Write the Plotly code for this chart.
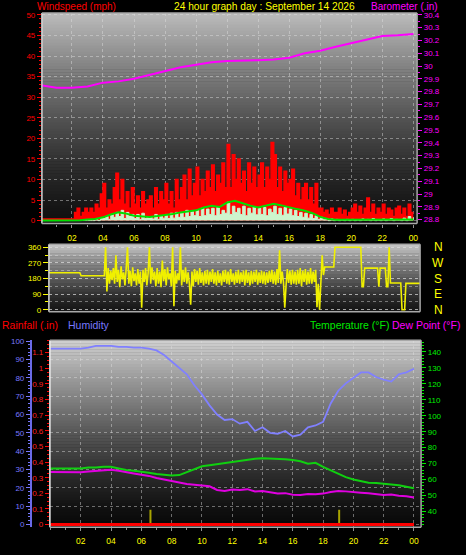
import plotly.graph_objects as go

W, H = 466, 555

# ---------------- data ----------------
STEP_WIND = 10     # minutes between wind gust / speed samples
STEP_DIR = 5       # minutes between wind direction samples
STEP_AVG = 30      # minutes between average-wind samples
STEP_BARO = 60     # minutes between barometer samples
STEP_THERMO = 30   # minutes between humidity / temperature / dew point samples
STEP_RAIN = 60

gust_mph = [
    0.4, 0.4, 0.4, 0.4, 0.4, 0.4,
    0.4, 0.4, 0.4, 0.4, 0.4, 0.4,
    0.4, 2, 3, 1, 2, 3,
    2, 3, 2, 4, 3, 6.5,
    9, 3, 5, 4, 8, 11.5,
    5, 10, 4, 7, 3, 8,
    4, 6, 3, 7, 4, 5,
    6, 3, 8, 4, 7, 5,
    9, 4, 7, 3, 10, 5,
    8, 11, 5, 12.5, 6, 9,
    13, 6, 10, 7, 12, 8,
    13.5, 7, 11, 9, 14, 8,
    18.5, 8, 16, 10, 15, 9,
    12, 7, 14, 9, 13, 8,
    11, 14, 8, 13, 10, 19,
    16, 8, 13, 7, 12, 9,
    10, 12.5, 6, 9, 5, 8,
    9, 5, 8, 4, 9, 3,
    3, 2, 2.5, 1.5, 3, 2,
    2, 3, 1.5, 2.5, 1, 2,
    3, 4, 2, 3.5, 1.5, 3,
    5.5, 2, 4, 1.5, 3, 2,
    4, 1.5, 3, 2.5, 1, 3,
    3.5, 1.5, 3, 1, 4, 2,
    2,
]

speed_mph = [
    0, 0, 0, 0, 0, 0,
    0, 0, 0, 0, 0, 0,
    0, 0, 0, 0, 0, 0,
    0, 0, 0, 0.3, 0, 0.5,
    0.5, 1, 0.3, 1.5, 0.8, 2,
    1, 2.5, 0.5, 2, 1, 1.5,
    0.5, 1.5, 0.3, 1.8, 0.5, 1,
    1, 0.4, 1.5, 0.3, 1.2, 0.6,
    1.5, 0.5, 1.8, 0.6, 2, 0.8,
    2, 0.8, 2.5, 1, 2.2, 1.2,
    2.5, 1, 3, 1.2, 2.8, 1.5,
    3, 1.2, 3.2, 1.5, 2.5, 1.8,
    4.5, 1.5, 3.5, 2, 3, 1.5,
    3.5, 1.2, 3, 1.8, 3.3, 1.4,
    3, 1.5, 3.2, 1.2, 2.8, 2,
    3.5, 1.5, 3, 1.3, 3.2, 1.6,
    2.8, 1.2, 2.5, 1, 2, 0.8,
    1.8, 0.6, 1.5, 0.5, 1.2, 0.3,
    0.8, 0.2, 0.5, 0, 0.4, 0,
    0.3, 0, 0.2, 0, 0.3, 0,
    0.3, 0, 0.2, 0, 0.4, 0.1,
    0.3, 0, 0.5, 0, 0.2, 0,
    0.4, 0, 0.2, 0.5, 0, 0.3,
    0.2, 0, 0.6, 0, 1.0, 0.2,
    0.8,
]

avg_mph = [
    0, 0, 0, 0, 0, 0.1, 0.3, 0.4, 0.8, 1.5,
    2.0, 1.7, 1.2, 1.0, 0.9, 1.1, 1.3, 1.6, 2.0, 2.3,
    2.5, 3.2, 3.6, 3.3, 4.4, 4.8, 4.2, 3.6, 3.2, 3.6,
    4.1, 3.7, 3.2, 2.8, 2.4, 1.8, 0.9, 0.4, 0.2, 0.2,
    0.3, 0.2, 0.3, 0.2, 0.2, 0.3, 0.2, 0.3, 0.3,
]

baro_in = [
    29.85, 29.83, 29.83, 29.84, 29.87, 29.88, 29.90, 29.93, 29.96, 29.99,
    30.01, 30.03, 30.04, 30.04, 30.045, 30.05, 30.065, 30.10, 30.12, 30.15,
    30.18, 30.21, 30.235, 30.24, 30.25,
]

wind_dir = [
    213, 213, 213, 213, 213, 213, 213, 213, 213, 213, 213, 213,
    213, 213, 213, 213, 213, 213, 213, 213, 213, 213, 213, 213,
    213, 196, 196, 196, 196, 196, 196, 196, 196, 196, 196, 196,
    196, 196, 196, 196, 196, 196, 196, 196, 360, 105, 240, 150,
    225, 170, 240, 150, 314, 160, 230, 130, 250, 175, 215, 140,
    240, 360, 150, 225, 135, 245, 165, 210, 140, 235, 150, 220,
    11, 230, 160, 240, 140, 210, 360, 150, 245, 170, 220, 135,
    240, 150, 220, 130, 283, 165, 235, 140, 245, 175, 210, 135,
    360, 20, 225, 150, 210, 170, 360, 140, 230, 160, 245, 150,
    215, 150, 29, 220, 135, 235, 160, 225, 145, 240, 155, 215,
    140, 225, 150, 230, 145, 220, 160, 235, 150, 215, 140, 225,
    155, 210, 140, 225, 160, 230, 150, 220, 145, 235, 160, 210,
    145, 220, 155, 230, 150, 215, 160, 225, 140, 230, 155, 215,
    140, 225, 150, 220, 160, 230, 145, 215, 155, 225, 150, 220,
    145, 215, 155, 225, 160, 230, 150, 220, 145, 235, 155, 343,
    150, 220, 160, 11, 140, 235, 155, 225, 145, 230, 150, 220,
    145, 230, 150, 240, 135, 225, 160, 235, 145, 220, 150, 240,
    150, 220, 160, 230, 15, 150, 0, 220, 314, 200, 246, 246,
    246, 246, 246, 246, 246, 246, 360, 360, 360, 360, 360, 360,
    360, 360, 360, 360, 360, 360, 360, 360, 360, 360, 360, 360,
    360, 360, 360, 133, 133, 240, 240, 240, 240, 240, 240, 240,
    240, 240, 240, 240, 133, 240, 240, 240, 240, 240, 133, 133,
    360, 154, 154, 154, 154, 154, 154, 154, 154, 154, 0, 0,
    0, 152, 152, 152, 152, 152, 152, 152, 152, 152, 152, 152,
    152,
]

humidity = [
    96, 96, 96, 96, 96, 96.5, 97.5, 97.5, 97.5, 97,
    97, 96.5, 96.5, 96, 95, 92.5, 89, 85, 82, 76,
    71, 65, 60, 57, 57.5, 55, 56, 51, 53, 50,
    49.5, 51, 48, 49, 53, 54, 56, 66, 73, 77,
    80, 83, 83, 80.5, 79, 78, 82, 83, 85,
]

temp_f = [
    67, 67, 67, 67, 67, 67.5, 67.5, 68, 68, 67,
    66, 65.5, 65, 64.3, 63.5, 62.8, 62.5, 62.8, 64.5, 66.5,
    68.3, 69, 69.7, 70.3, 71, 71.5, 72.5, 73, 73.3, 73.2,
    73.1, 72.8, 72.2, 71.5, 70, 70.5, 68, 65.8, 63.5, 61.5,
    60, 58.8, 58, 57.8, 57.3, 57.2, 56.5, 55.5, 54.5,
]

dew_f = [
    64.8, 64.8, 64.8, 64.5, 64.6, 65, 65.5, 66, 66.1, 65.5,
    64.5, 63.8, 63, 62.3, 61, 60, 59, 58, 57.2, 56.8,
    56.2, 55.8, 53.5, 52.8, 53.8, 53.5, 54, 52.5, 52.8, 52.2,
    51.3, 51.5, 50.5, 50.3, 51, 50.8, 51.2, 52.2, 52.8, 52.6,
    52, 51.8, 51.5, 50.8, 50.4, 50.6, 49.8, 49.5, 48.7,
]

rain_in = [0.0, 0.0, 0.0, 0.0, 0.0, 0.0, 0.0, 0.0, 0.0, 0.0, 0.0, 0.0, 0.0,
           0.0, 0.0, 0.0, 0.0, 0.0, 0.0, 0.0, 0.0, 0.0, 0.0, 0.0, 0.0]

event_hours = [6.6, 19.06]
event_level = [8, 8]

hour_ticks = [2, 4, 6, 8, 10, 12, 14, 16, 18, 20, 22, 24]
hour_labels = ["02", "04", "06", "08", "10", "12", "14", "16", "18", "20", "22", "00"]
wind_ticks = [0, 5, 10, 15, 20, 25, 30, 35, 40, 45, 50]
baro_ticks = [28.8, 28.9, 29.0, 29.1, 29.2, 29.3, 29.4, 29.5, 29.6, 29.7, 29.8, 29.9,
              30.0, 30.1, 30.2, 30.3, 30.4]
baro_labels = ["28.8", "28.9", "29", "29.1", "29.2", "29.3", "29.4", "29.5", "29.6",
               "29.7", "29.8", "29.9", "30", "30.1", "30.2", "30.3", "30.4"]
dir_ticks = [0, 90, 180, 270, 360]
compass = ["N", "E", "S", "W", "N"]
hum_ticks = [0, 10, 20, 30, 40, 50, 60, 70, 80, 90, 100]
rain_ticks = [0, 0.1, 0.2, 0.3, 0.4, 0.5, 0.6, 0.7, 0.8, 0.9, 1.0, 1.1]
rain_labels = ["0", "0.1", "0.2", "0.3", "0.4", "0.5", "0.6", "0.7", "0.8", "0.9", "1", "1.1"]
temp_ticks = [40, 50, 60, 70, 80, 90, 100, 110, 120, 130, 140]


def hours(n, step_min):
    return [i * step_min / 60 for i in range(n)]


t_wind = hours(len(gust_mph), STEP_WIND)
t_dir = hours(len(wind_dir), STEP_DIR)
t_avg = hours(len(avg_mph), STEP_AVG)
t_baro = hours(len(baro_in), STEP_BARO)
t_thermo = hours(len(humidity), STEP_THERMO)
t_rain = hours(len(rain_in), STEP_RAIN)

ev_x, ev_y = [], []
for h, lv in zip(event_hours, event_level):
    ev_x += [h, h, None]
    ev_y += [0, lv, None]

# ---------------- colours / fonts ----------------
RED = "#ff0000"
MAG = "#ff00ff"
YEL = "#ffff00"
GRN = "#00ee00"
BLU = "#7878ff"
FONT = "Liberation Sans"
GRID = "rgba(225,225,225,0.45)"


def px(v):
    return v / W


def py(v):
    return 1 - v / H


fig = go.Figure()

# top panel: wind + barometer
fig.add_trace(go.Scatter(x=t_wind, y=gust_mph, mode="lines", xaxis="x", yaxis="y",
                         line=dict(color=RED, width=1.5, shape="hv"),
                         fill="tozeroy", fillcolor=RED))
fig.add_trace(go.Scatter(x=t_wind, y=speed_mph, mode="lines", xaxis="x", yaxis="y",
                         line=dict(color="#cdf5cd", width=1, shape="hv"),
                         fill="tozeroy", fillcolor="#cdf5cd"))
fig.add_trace(go.Scatter(x=t_avg, y=avg_mph, mode="lines", xaxis="x", yaxis="y",
                         line=dict(color="#00e000", width=2)))
fig.add_trace(go.Scatter(x=t_baro, y=baro_in, mode="lines", xaxis="x", yaxis="y2",
                         line=dict(color=MAG, width=2)))

# middle panel: wind direction
fig.add_trace(go.Scatter(x=t_dir, y=wind_dir, mode="lines", xaxis="x2", yaxis="y3",
                         line=dict(color="#f0f000", width=1.6)))

# bottom panel
fig.add_trace(go.Scatter(x=ev_x, y=ev_y, mode="lines", xaxis="x3", yaxis="y4",
                         line=dict(color="#a8a400", width=2)))
fig.add_trace(go.Scatter(x=t_thermo, y=humidity, mode="lines", xaxis="x3", yaxis="y4",
                         line=dict(color="#8080ff", width=1.8)))
fig.add_trace(go.Scatter(x=t_thermo, y=temp_f, mode="lines", xaxis="x3", yaxis="y6",
                         line=dict(color="#10d010", width=2)))
fig.add_trace(go.Scatter(x=t_thermo, y=dew_f, mode="lines", xaxis="x3", yaxis="y6",
                         line=dict(color="#e000e0", width=2)))
fig.add_trace(go.Scatter(x=t_rain, y=rain_in, mode="lines", xaxis="x3", yaxis="y5",
                         line=dict(color=RED, width=3)))


def tickfont(c, s=8):
    return dict(color=c, size=s, family=FONT)


xcommon = dict(tickvals=hour_ticks, ticktext=hour_labels, tickfont=tickfont(YEL, 8.5),
               ticks="outside", ticklen=3, tickcolor="#909090",
               minor=dict(dtick=1, tick0=0, ticks="outside", ticklen=2, tickcolor="#909090"),
               showgrid=True, gridcolor=GRID, griddash="dot", gridwidth=1,
               zeroline=False, showline=False, ticklabelstandoff=3)

layout = dict(
    width=W, height=H, autosize=False,
    margin=dict(l=0, r=0, t=0, b=0, pad=0),
    paper_bgcolor="#000000", plot_bgcolor="rgba(0,0,0,0)",
    showlegend=False,
    xaxis=dict(domain=[px(42), px(418)], range=[0.064, 24.24], anchor="y", **xcommon),
    yaxis=dict(domain=[py(223), py(10)], range=[-0.72, 50.48], anchor="x",
               tickvals=wind_ticks, tickfont=tickfont(RED), ticks="outside", ticklen=4,
               tickcolor=RED, minor=dict(tick0=0, dtick=1, ticks="outside", ticklen=2, tickcolor=RED),
               showgrid=True, gridcolor=GRID, griddash="dot", zeroline=False, showline=False),
    yaxis2=dict(overlaying="y", side="right", anchor="x", range=[28.769, 30.415],
                tickvals=baro_ticks, ticktext=baro_labels, tickfont=tickfont(MAG),
                ticks="outside", ticklen=4, tickcolor=MAG,
                minor=dict(tick0=28.8, dtick=0.05, ticks="outside", ticklen=2, tickcolor=MAG),
                showgrid=False, zeroline=False, showline=False),
    xaxis2=dict(domain=[px(49), px(421)], range=[0, 24], anchor="y3", showticklabels=False,
                ticks="", showgrid=False, zeroline=False, showline=False),
    yaxis3=dict(domain=[py(312), py(244)], range=[-11, 377], anchor="x2",
                tickvals=dir_ticks, tickfont=tickfont(YEL), ticks="outside", ticklen=5,
                tickcolor=YEL, minor=dict(tick0=0, dtick=45, ticks="outside", ticklen=3,
                                          tickcolor=YEL, showgrid=True, gridcolor=GRID,
                                          griddash="dot"),
                showgrid=True, gridcolor=GRID, griddash="dot", zeroline=False, showline=False),
    xaxis3=dict(domain=[px(50), px(422)], range=[-0.04, 24.47], anchor="y4", **xcommon),
    yaxis4=dict(domain=[py(530), py(341)], range=[-1.62, 100.54], anchor="free",
                position=px(31), side="left", tickvals=hum_ticks, tickfont=tickfont(BLU),
                ticks="outside", ticklen=4, tickcolor=BLU,
                minor=dict(tick0=0, dtick=2, ticks="outside", ticklen=2, tickcolor=BLU),
                showline=True, linecolor="#6a6ae8", linewidth=2,
                showgrid=True, gridcolor=GRID, griddash="dot", zeroline=False),
    yaxis5=dict(overlaying="y4", side="left", anchor="x3", range=[-0.017, 1.179],
                tickvals=rain_ticks, ticktext=rain_labels, tickfont=tickfont("#ff2020"),
                ticks="outside", ticklen=4, tickcolor=RED,
                minor=dict(tick0=0, dtick=0.025, ticks="outside", ticklen=2, tickcolor=RED),
                showgrid=False, zeroline=False, showline=False),
    yaxis6=dict(overlaying="y4", side="right", anchor="x3", range=[30.1, 147.3],
                tickvals=temp_ticks, tickfont=tickfont(GRN), ticks="outside", ticklen=4,
                tickcolor=GRN,
                minor=dict(tick0=30, dtick=2, ticks="outside", ticklen=2, tickcolor=GRN),
                showgrid=False, zeroline=False, showline=False),
)


# gradient backgrounds and frames (styling only)
def bands(x0, x1, y0, y1, top, bot, step=3, gamma=1.35):
    out = []
    y = y0
    while y < y1:
        yb = min(y + step, y1)
        f = ((y + yb) / 2 - y0) / (y1 - y0)
        v = int(round(bot + (top - bot) * (1 - f) ** gamma))
        out.append(dict(type="rect", xref="paper", yref="paper", x0=px(x0), x1=px(x1),
                        y0=py(min(yb + 0.6, y1)), y1=py(y), fillcolor=f"rgb({v},{v},{v})",
                        line=dict(width=0), layer="below"))
        y = yb
    return out


def frame(x0, x1, y0, y1, light="#d8d8d8", dark="#a8a8a8"):
    seg = []
    for (a, b, c, d, col) in [(x0, y0, x0, y1, light), (x0, y1, x1, y1, dark),
                              (x1, y0, x1, y1, dark), (x0, y0, x1, y0, dark)]:
        seg.append(dict(type="line", xref="paper", yref="paper", x0=px(a), y0=py(b),
                        x1=px(c), y1=py(d), line=dict(color=col, width=1.5), layer="above"))
    return seg


shapes = []
shapes += bands(42, 418, 10, 223, 188, 16)
shapes += bands(49, 421, 244, 312, 200, 22)
shapes += bands(50, 422, 341, 530, 208, 8)
shapes += frame(42, 418, 10, 223)
shapes += frame(49, 421, 244, 312)
shapes += frame(50, 422, 341, 530, light="#f0f0f0")
layout["shapes"] = shapes


def ann(text, x, y, color, size=10.5, xanchor="left"):
    return dict(text=text, x=px(x), y=py(y), xref="paper", yref="paper",
                xanchor=xanchor, yanchor="middle", showarrow=False,
                font=dict(color=color, size=size, family=FONT))


annotations = [
    ann("Windspeed (mph)", 35, 3.5, RED, size=10),
    ann("24 hour graph day : September 14 2026", 172, 3.5, YEL, size=10.2),
    ann("Barometer (.in)", 441, 3.5, MAG, size=10, xanchor="right"),
    ann("Rainfall (.in)", 0, 326, RED),
    ann("Humidity", 66, 326, BLU),
    ann("Temperature (°F)", 392, 326, "#00e800", xanchor="right"),
    ann("Dew Point (°F)", 463, 326, MAG, xanchor="right"),
]
for val, lab in zip(dir_ticks, compass):
    annotations.append(dict(text=lab, x=px(439), y=val, xref="paper", yref="y3",
                            xanchor="center", yanchor="middle", showarrow=False,
                            font=dict(color=YEL, size=12, family=FONT)))
layout["annotations"] = annotations

fig.update_layout(**layout)
fig.write_html("out.html", config={"displayModeBar": False},
               post_script="document.body.style.margin='0';document.body.style.padding='0';")
